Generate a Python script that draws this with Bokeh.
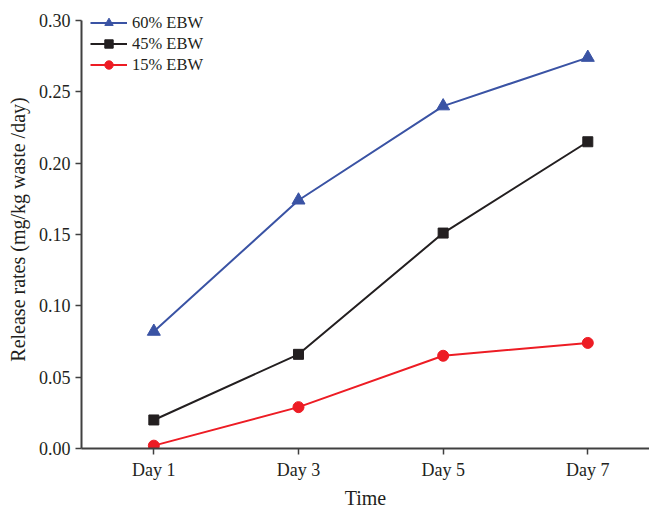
from bokeh.plotting import figure
from bokeh.models import FixedTicker, Legend, LegendItem, NumeralTickFormatter
from bokeh.embed import file_html
from bokeh.resources import INLINE

days = [1, 3, 5, 7]
day_labels = ["Day 1", "Day 3", "Day 5", "Day 7"]
ebw60 = [0.082, 0.174, 0.240, 0.274]
ebw45 = [0.020, 0.066, 0.151, 0.215]
ebw15 = [0.002, 0.029, 0.065, 0.074]
yticks = [0.0, 0.05, 0.10, 0.15, 0.20, 0.25, 0.30]
series_names = ["60% EBW", "45% EBW", "15% EBW"]

FONT = "Liberation Serif"

p = figure(width=649, height=511, output_backend="svg", toolbar_location=None,
           x_range=(0.0, 7.853), y_range=(0.0, 0.307),
           min_border_left=81, min_border_right=0, min_border_top=10, min_border_bottom=63)
p.outline_line_color = None
p.grid.visible = False
p.background_fill_color = "white"

blue = "#3A53A4"
black = "#231F20"
red = "#ED1C24"

l1 = p.line(days, ebw60, line_color=blue, line_width=2)
m1 = p.scatter(days, ebw60, marker="triangle", size=13, fill_color=blue, line_color=blue)
l2 = p.line(days, ebw45, line_color=black, line_width=2)
m2 = p.scatter(days, ebw45, marker="square", size=10, fill_color=black, line_color=black)
l3 = p.line(days, ebw15, line_color=red, line_width=2)
m3 = p.scatter(days, ebw15, marker="circle", size=11, fill_color=red, line_color=red)

legend = Legend(items=[LegendItem(label=series_names[0], renderers=[l1, m1]),
                       LegendItem(label=series_names[1], renderers=[l2, m2]),
                       LegendItem(label=series_names[2], renderers=[l3, m3])],
                location=(9, 373), padding=0, margin=0, spacing=0,
                glyph_width=37, glyph_height=21, label_height=21, label_standoff=5,
                border_line_color=None, background_fill_alpha=0,
                label_text_font=FONT, label_text_font_size="16.5px", label_text_color="#231F20")
p.add_layout(legend)

for ax in (p.xaxis[0], p.yaxis[0]):
    ax.axis_line_color = "#404040"
    ax.axis_line_width = 2
    ax.major_tick_line_color = "#404040"
    ax.major_tick_line_width = 1.5
    ax.major_tick_out = 6
    ax.major_tick_in = 0
    ax.minor_tick_line_color = None
    ax.major_label_text_font = FONT
    ax.major_label_text_font_size = "18px"
    ax.major_label_text_color = "#231F20"
    ax.axis_label_text_font = FONT
    ax.axis_label_text_font_size = "20px"
    ax.axis_label_text_font_style = "normal"
    ax.axis_label_text_color = "#231F20"

p.xaxis.ticker = FixedTicker(ticks=days)
p.xaxis.major_label_overrides = {d: lab for d, lab in zip(days, day_labels)}
p.xaxis.axis_label = "Time"
p.xaxis.major_label_standoff = 5
p.xaxis.axis_label_standoff = 4

p.yaxis.ticker = FixedTicker(ticks=yticks)
p.yaxis.bounds = (0.0, 0.30)
p.yaxis.formatter = NumeralTickFormatter(format="0.00")
p.yaxis.axis_label = "Release rates (mg/kg waste /day)"
p.yaxis.major_label_standoff = 5
p.yaxis.axis_label_standoff = 7

open("out.html", "w").write(file_html(p, INLINE))
